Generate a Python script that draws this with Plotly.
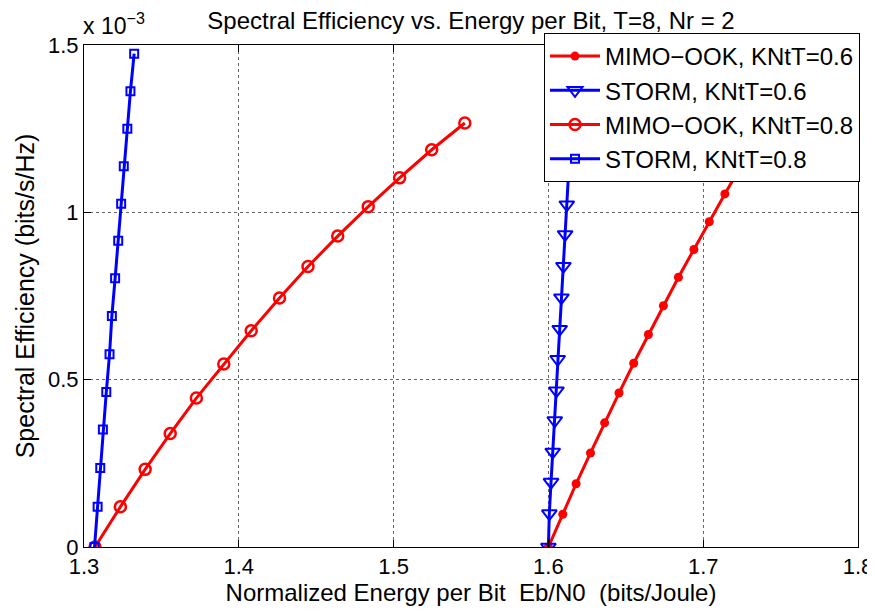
import plotly.graph_objects as go

# Data (y in units of 1e-3 bits/s/Hz)
x_mimo_06 = [1.6000, 1.6093, 1.6179, 1.6272, 1.6363, 1.6456, 1.6551, 1.6646, 1.6743, 1.6840, 1.6940, 1.7039, 1.7140, 1.7242]
y_mimo_06 = [0.000, 0.098, 0.189, 0.281, 0.371, 0.460, 0.549, 0.635, 0.721, 0.806, 0.889, 0.972, 1.055, 1.137]

x_storm_06 = [1.6000, 1.6006, 1.6017, 1.6028, 1.6041, 1.6052, 1.6060, 1.6073, 1.6084, 1.6097, 1.6108, 1.6119, 1.6130, 1.6141]
y_storm_06 = [0.000, 0.100, 0.194, 0.284, 0.378, 0.467, 0.561, 0.651, 0.745, 0.839, 0.934, 1.023, 1.115, 1.205]

x_mimo_08 = [1.3071, 1.3235, 1.3395, 1.3557, 1.3726, 1.3903, 1.4080, 1.4263, 1.4447, 1.4639, 1.4836, 1.5039, 1.5246, 1.5460]
y_mimo_08 = [0.000, 0.120, 0.232, 0.339, 0.445, 0.547, 0.646, 0.744, 0.838, 0.929, 1.017, 1.103, 1.187, 1.267]

x_storm_08 = [1.3068, 1.3088, 1.3105, 1.3122, 1.3144, 1.3165, 1.3180, 1.3201, 1.3221, 1.3240, 1.3257, 1.3280, 1.3300, 1.3324]
y_storm_08 = [0.000, 0.120, 0.236, 0.351, 0.463, 0.576, 0.690, 0.803, 0.915, 1.026, 1.138, 1.250, 1.362, 1.474]

names = ["MIMO\u2212OOK, KNtT=0.6", "STORM, KNtT=0.6", "MIMO\u2212OOK, KNtT=0.8", "STORM, KNtT=0.8"]

x_tickvals = [1.3, 1.4, 1.5, 1.6, 1.7, 1.8]
x_ticktext = ["1.3", "1.4", "1.5", "1.6", "1.7", "1.8"]
y_tickvals = [0, 0.5, 1.0, 1.5]
y_ticktext = ["0", "0.5", "1", "1.5"]

FONT = "Liberation Sans, Arial, Helvetica, sans-serif"
RED = "#ff0000"
BLUE = "#0000ff"

W, H = 867, 605  # page body adds an 8px offset

fig = go.Figure()
fig.add_trace(go.Scatter(x=x_mimo_06, y=y_mimo_06, name=names[0], mode="lines+markers",
                         line=dict(color=RED, width=3),
                         marker=dict(symbol="circle", size=9, color=RED)))
fig.add_trace(go.Scatter(x=x_storm_06, y=y_storm_06, name=names[1], mode="lines+markers",
                         line=dict(color=BLUE, width=3),
                         marker=dict(symbol="triangle-down-open", size=13, color=BLUE,
                                     line=dict(color=BLUE, width=2))))
fig.add_trace(go.Scatter(x=x_mimo_08, y=y_mimo_08, name=names[2], mode="lines+markers",
                         line=dict(color=RED, width=3),
                         marker=dict(symbol="circle-open", size=11, color=RED,
                                     line=dict(color=RED, width=2.5))))
fig.add_trace(go.Scatter(x=x_storm_08, y=y_storm_08, name=names[3], mode="lines+markers",
                         line=dict(color=BLUE, width=3),
                         marker=dict(symbol="square-open", size=8, color=BLUE,
                                     line=dict(color=BLUE, width=2))))

axis_common = dict(showline=True, linecolor="black", linewidth=1, mirror="allticks",
                   ticks="inside", ticklen=7, tickcolor="black", tickwidth=1,
                   showgrid=True, gridcolor="#666666", gridwidth=1, griddash="dot",
                   zeroline=False, automargin=False,
                   tickfont=dict(family=FONT, size=22, color="black"))

fig.update_xaxes(range=[1.3, 1.8], tickvals=x_tickvals, ticktext=x_ticktext,
                 title=dict(text="Normalized Energy per Bit  Eb/N0  (bits/Joule)",
                            font=dict(family=FONT, size=24, color="black"), standoff=0),
                 **axis_common)
fig.update_yaxes(range=[0, 1.5], tickvals=y_tickvals, ticktext=y_ticktext,
                 title=dict(text="Spectral Efficiency (bits/s/Hz)",
                            font=dict(family=FONT, size=25, color="black"), standoff=6),
                 **axis_common)

fig.update_layout(
    width=W, height=H,
    margin=dict(l=76, r=17, t=37, b=66, autoexpand=False),
    paper_bgcolor="white", plot_bgcolor="white",
    title=dict(text="Spectral Efficiency vs. Energy per Bit, T=8, Nr = 2",
               font=dict(family=FONT, size=24, color="black"),
               x=0.5, xref="paper", xanchor="center",
               y=1 - 13 / H, yref="container", yanchor="middle"),
    legend=dict(x=852 / W, xref="container", xanchor="right",
                y=1 - 25 / H, yref="container", yanchor="top",
                bgcolor="white", bordercolor="black", borderwidth=1,
                font=dict(family=FONT, size=24, color="black"),
                itemwidth=50, tracegroupgap=0),
    showlegend=True,
    annotations=[dict(text="x 10<sup>\u22123</sup>", x=0, xref="paper", xanchor="left",
                      xshift=-3, y=1, yref="paper", yanchor="bottom", yshift=4,
                      showarrow=False, font=dict(family=FONT, size=23, color="black"))],
)

fig.write_html("out.html")
